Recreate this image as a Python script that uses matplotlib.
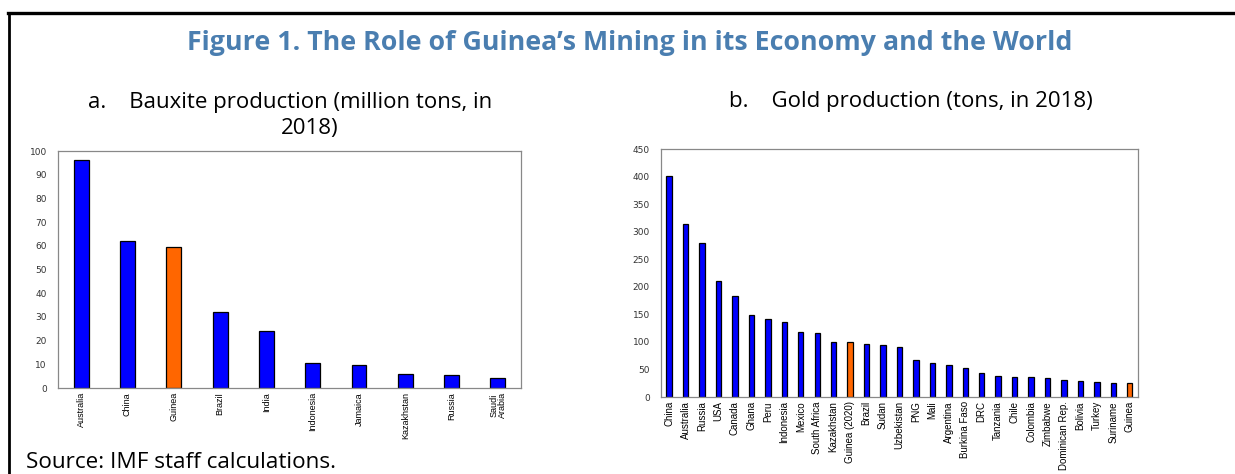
import matplotlib
matplotlib.use("Agg")
import matplotlib.pyplot as plt
from matplotlib.lines import Line2D

# Panel a: bauxite production (million tons, 2018)
bauxite_countries = ["Australia", "China", "Guinea", "Brazil", "India", "Indonesia",
                     "Jamaica", "Kazakhstan", "Russia", "Saudi\nArabia"]
bauxite_values = [96.1, 62.2, 59.6, 32.0, 23.9, 10.4, 9.8, 6.0, 5.6, 4.4]

# Panel b: gold production (tons, 2018)
gold_countries = ["China", "Australia", "Russia", "USA", "Canada", "Ghana", "Peru",
                  "Indonesia", "Mexico", "South Africa", "Kazakhstan", "Guinea (2020)",
                  "Brazil", "Sudan", "Uzbekistan", "PNG", "Mali", "Argentina",
                  "Burkina Faso", "DRC", "Tanzania", "Chile", "Colombia", "Zimbabwe",
                  "Dominican Rep.", "Bolivia", "Turkey", "Suriname", "Guinea"]
gold_values = [401, 314, 280, 211, 184, 149, 142, 136, 118, 117, 100, 100,
               97, 94, 90, 67, 61, 59, 53, 44, 39, 36, 36, 35, 31, 29, 27, 25, 25]

blue = "#0000FF"
orange = "#FF6600"
title_color = "#4A7EB0"
label_font = ["Liberation Sans", "DejaVu Sans"]
text_font = ["Open Sans", "DejaVu Sans"]


def colors_for(names):
    return [orange if n.startswith("Guinea") else blue for n in names]


def style_axis(ax, names, ymax, ystep, label_size):
    ax.set_xlim(-0.5, len(names) - 0.5)
    ax.set_ylim(0, ymax)
    ax.set_yticks(range(0, ymax + 1, ystep))
    ax.set_xticks(range(len(names)))
    ax.set_xticklabels(names, rotation=90, fontsize=label_size, family=label_font,
                       linespacing=0.9)
    ax.tick_params(axis="x", length=0, pad=3)
    ax.tick_params(axis="y", length=0, pad=8, labelsize=6.5, colors="#333333")
    for s in ax.spines.values():
        s.set_color("#888888")
        s.set_linewidth(0.9)


fig = plt.figure(figsize=(12.35, 4.74), dpi=100)

# Panel a
ax1 = fig.add_axes([0.0470, 0.1814, 0.3749, 0.5])
ax1.bar(range(len(bauxite_values)), bauxite_values, width=0.32,
        color=colors_for(bauxite_countries), edgecolor="black", linewidth=0.9)
style_axis(ax1, bauxite_countries, 100, 10, 6.5)

# Panel b
ax2 = fig.add_axes([0.5352, 0.1624, 0.3862, 0.5232])
ax2.bar(range(len(gold_values)), gold_values, width=0.33,
        color=colors_for(gold_countries), edgecolor="black", linewidth=0.9)
style_axis(ax2, gold_countries, 450, 50, 7)

# Titles
fig.text(0.510, 0.909, "Figure 1. The Role of Guinea\u2019s Mining in its Economy and the World",
         ha="center", va="center", fontsize=19.3, fontweight="bold",
         color=title_color, family=text_font)
fig.text(0.2348, 0.783, "a.    Bauxite production (million tons, in",
         ha="center", va="center", fontsize=16, family=text_font)
fig.text(0.251, 0.728, "2018)",
         ha="center", va="center", fontsize=16, family=text_font)
fig.text(0.7373, 0.785, "b.    Gold production (tons, in 2018)",
         ha="center", va="center", fontsize=16, family=text_font)
fig.text(0.021, 0.025, "Source: IMF staff calculations.",
         ha="left", va="center", fontsize=16.2, family=text_font)

# Frame around the figure (top and left only)
fig.add_artist(Line2D([0.0065, 1.0], [0.9726, 0.9726], color="black", linewidth=2.4,
                      transform=fig.transFigure))
fig.add_artist(Line2D([0.0073, 0.0073], [0.0, 0.9726], color="black", linewidth=2.0,
                      transform=fig.transFigure))

fig.savefig("out.png", dpi=100)
